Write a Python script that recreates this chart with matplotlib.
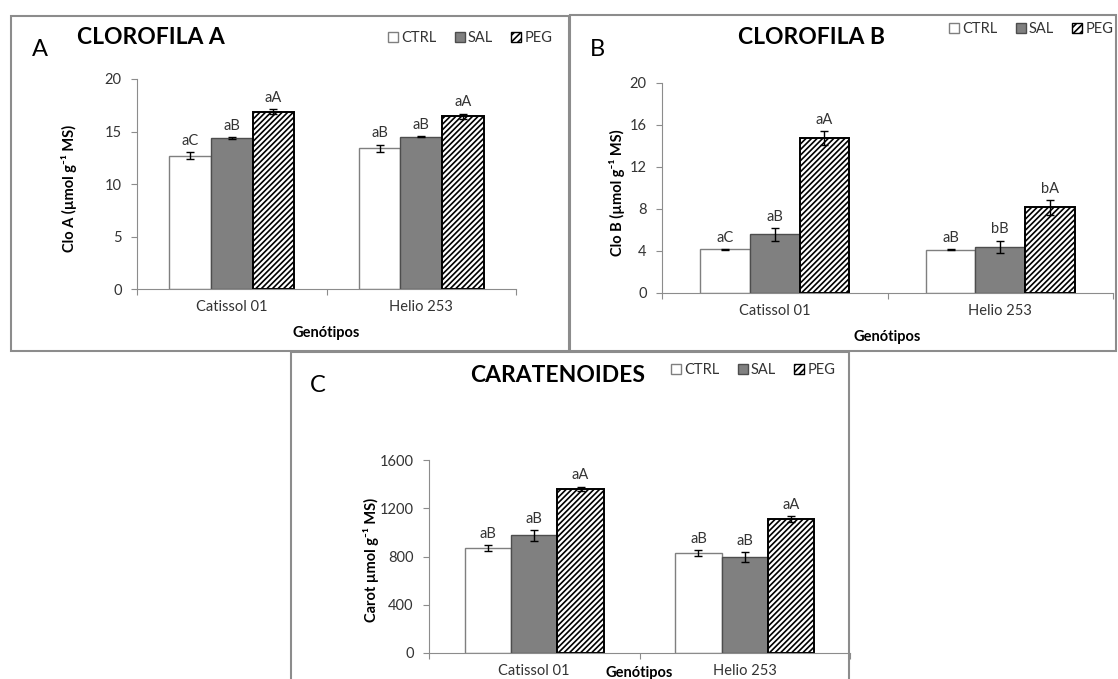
import numpy as np
import matplotlib
matplotlib.use("Agg")
import matplotlib.pyplot as plt
from matplotlib.patches import Patch, Rectangle

plt.rcParams['font.family'] = ['Lato', 'DejaVu Sans']
plt.rcParams['hatch.linewidth'] = 1.2

genotypes = ['Catissol 01', 'Helio 253']
treatments = ['CTRL', 'SAL', 'PEG']

# rows = CTRL, SAL, PEG ; columns = genotypes
clo_a_mean = [[12.7, 13.4], [14.35, 14.5], [16.9, 16.45]]
clo_a_err = [[0.35, 0.35], [0.08, 0.06], [0.25, 0.25]]
clo_a_letters = [['aC', 'aB'], ['aB', 'aB'], ['aA', 'aA']]

clo_b_mean = [[4.15, 4.1], [5.6, 4.4], [14.75, 8.15]]
clo_b_err = [[0.05, 0.05], [0.6, 0.6], [0.65, 0.7]]
clo_b_letters = [['aC', 'aB'], ['aB', 'bB'], ['aA', 'bA']]

carot_mean = [[870, 828], [977, 797], [1360, 1110]]
carot_err = [[25, 25], [45, 40], [20, 22]]
carot_letters = [['aB', 'aB'], ['aB', 'aB'], ['aA', 'aA']]

W, H = 1118, 679
fig = plt.figure(figsize=(W / 100, H / 100), dpi=100)
fig.patch.set_facecolor('white')

grey_txt = '#333333'
bar_styles = [
    dict(facecolor='white', edgecolor='#7f7f7f', linewidth=1.0),
    dict(facecolor='#808080', edgecolor='#4d4d4d', linewidth=1.0),
    dict(facecolor='white', edgecolor='black', hatch='//////', linewidth=1.4),
]


def rect(x0, y0, x1, y1):
    return [x0 / W, 1 - y1 / H, (x1 - x0) / W, (y1 - y0) / H]


def frame(x0, y0, x1, y1):
    fig.add_artist(Rectangle((x0 / W, 1 - y1 / H), (x1 - x0) / W, (y1 - y0) / H,
                             transform=fig.transFigure, fill=False,
                             edgecolor='#8c8c8c', linewidth=1.5))


def fig_text(x, y, s, **kw):
    fig.text(x / W, 1 - y / H, s, **kw)


def draw_panel(box, means, errs, letters, yticks, ylabel, ylab_x, xlab_y):
    ax = fig.add_axes(rect(*box))
    x = np.arange(len(genotypes))
    width = 0.22
    for i, off in enumerate([-width, 0, width]):
        ax.bar(x + off, means[i], width, yerr=errs[i], capsize=3,
               error_kw=dict(ecolor='black', elinewidth=1, capthick=1),
               **bar_styles[i])
        for xi, m, e, lab in zip(x + off, means[i], errs[i], letters[i]):
            ax.annotate(lab, (xi, m + e), xytext=(0, 3), textcoords='offset points',
                        ha='center', va='bottom', fontsize=10.5, color=grey_txt)
    ax.set_xlim(-0.5, len(genotypes) - 0.5)
    ax.set_ylim(yticks[0], yticks[-1])
    ax.set_yticks(yticks)
    # category ticks sit between groups, names are centred under each group
    ax.set_xticks(np.arange(len(genotypes) + 1) - 0.5)
    ax.set_xticklabels([])
    ax.set_xticks(x, genotypes, minor=True)
    ax.tick_params(axis='x', which='minor', length=0, pad=8, labelsize=10.5, labelcolor=grey_txt)
    ax.tick_params(axis='x', which='major', length=4, color='#8c8c8c')
    ax.tick_params(axis='y', length=4, pad=7, color='#8c8c8c', labelsize=10.5, labelcolor=grey_txt)
    for s in ['top', 'right']:
        ax.spines[s].set_visible(False)
    for s in ['left', 'bottom']:
        ax.spines[s].set_color('#8c8c8c')
    ax.set_ylabel(ylabel, fontsize=10.5, fontweight='bold')
    ax.yaxis.label.set_va('center')
    x0, y0, x1, y1 = box
    ax.yaxis.set_label_coords((ylab_x - x0) / (x1 - x0), 0.48)
    fig_text((x0 + x1) / 2, xlab_y, 'Genótipos', ha='center', va='center',
             fontsize=10.5, fontweight='bold')
    return ax


def legend(x, y):
    handles = [Patch(**bar_styles[0]), Patch(**bar_styles[1]),
               Patch(facecolor='white', edgecolor='black', hatch='/////', linewidth=1.0)]
    fig.legend(handles, treatments, loc='center left', bbox_to_anchor=(x / W, 1 - y / H),
               ncol=3, frameon=False, fontsize=10.5, handlelength=0.7, handleheight=0.7,
               handletextpad=0.2, columnspacing=1.25, borderpad=0, borderaxespad=0,
               labelcolor=grey_txt)


# panel A
frame(11, 16, 569, 351)
draw_panel((137, 79, 516, 289), clo_a_mean, clo_a_err, clo_a_letters,
           [0, 5, 10, 15, 20], 'Clo A (µmol g⁻¹ MS)', 69, 333)
fig_text(40, 50, 'A', ha='center', va='center', fontsize=17)
fig_text(77, 38, 'CLOROFILA A', ha='left', va='center', fontsize=16.5, fontweight='bold')
legend(388, 38)

# panel B
frame(570, 15, 1116, 351)
draw_panel((662, 83, 1113, 293), clo_b_mean, clo_b_err, clo_b_letters,
           [0, 4, 8, 12, 16, 20], 'Clo B (µmol g⁻¹ MS)', 617, 337)
fig_text(597, 50, 'B', ha='center', va='center', fontsize=17)
fig_text(811, 37, 'CLOROFILA B', ha='center', va='center', fontsize=16.5, fontweight='bold')
legend(949, 29)

# panel C
frame(291, 352, 849, 700)
draw_panel((429, 460, 850, 653), carot_mean, carot_err, carot_letters,
           [0, 400, 800, 1200, 1600], 'Carot µmol g⁻¹ MS)', 371, 673)
fig_text(318, 385, 'C', ha='center', va='center', fontsize=17)
fig_text(558, 375, 'CARATENOIDES', ha='center', va='center', fontsize=16.5, fontweight='bold')
legend(671, 370)

fig.savefig('out.png', dpi=100)
